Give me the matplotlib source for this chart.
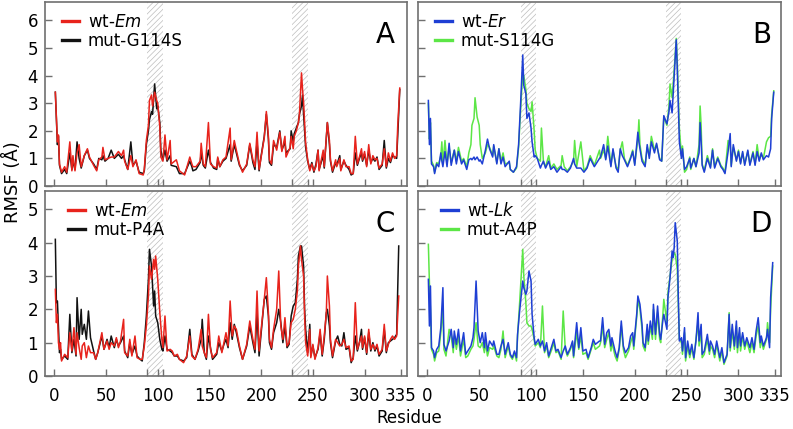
import matplotlib
matplotlib.use("Agg")
import matplotlib.pyplot as plt
from matplotlib.lines import Line2D

plt.rcParams['font.family'] = ['DejaVu Sans']
plt.rcParams['mathtext.fontset'] = 'dejavusans'
plt.rcParams['hatch.linewidth'] = 0.5

# ---- panel A: wt-Em vs mut-G114S ----
res_a = [1, 3, 4, 5, 7, 10, 12, 15, 17, 18,
         20, 22, 24, 26, 29, 32, 34, 38, 41, 43,
         46, 47, 49, 52, 55, 58, 62, 65, 67, 68,
         71, 74, 76, 79, 82, 86, 87, 89, 91, 92,
         94, 95, 97, 99, 100, 102, 103, 105, 107, 109,
         112, 113, 118, 121, 126, 131, 133, 134, 137, 141,
         142, 144, 146, 149, 151, 154, 157, 158, 160, 163,
         166, 170, 171, 174, 176, 179, 182, 186, 189, 192,
         194, 196, 198, 200, 203, 205, 207, 208, 210, 212,
         215, 218, 220, 223, 224, 228, 229, 231, 232, 234,
         236, 237, 239, 240, 241, 243, 245, 247, 249, 251,
         253, 255, 256, 260, 261, 264, 266, 267, 269, 272,
         273, 276, 277, 280, 282, 285, 287, 289, 291, 293,
         295, 297, 298, 300, 302, 304, 306, 308, 310, 312,
         314, 317, 319, 321, 323, 325, 327, 329, 331, 332,
         334]
wt_em_a = [3.4, 1.6, 1.85, 0.8, 0.5, 0.7, 0.5, 1.6, 0.55, 1.1,
           0.55, 1.2, 1.5, 0.7, 1.1, 1.35, 1.05, 0.75, 0.55, 0.95,
           1.05, 1.4, 0.95, 1.0, 1.05, 1.05, 1.25, 1.1, 1.3, 0.9,
           0.6, 1.1, 0.7, 0.95, 0.45, 0.4, 0.6, 1.65, 2.2, 3.1,
           3.3, 2.9, 3.4, 3.1, 3.0, 2.15, 1.05, 0.9, 1.85, 0.95,
           1.65, 0.8, 0.95, 0.55, 0.4, 1.05, 0.8, 0.7, 0.7, 0.9,
           1.55, 0.8, 0.7, 2.3, 0.8, 0.7, 0.65, 1.05, 0.7, 0.95,
           1.05, 2.1, 0.95, 1.65, 1.3, 0.8, 0.5, 0.8, 1.55, 0.95,
           0.7, 1.95, 0.6, 1.05, 1.75, 2.7, 1.8, 0.95, 0.8, 1.65,
           1.3, 1.95, 1.25, 1.8, 1.05, 1.4, 1.8, 1.35, 1.8, 2.0,
           2.3, 2.6, 4.1, 3.5, 3.05, 1.55, 0.95, 0.55, 0.8, 0.55,
           0.7, 1.3, 0.55, 1.3, 0.7, 2.3, 1.65, 0.95, 0.55, 0.95,
           0.7, 1.0, 0.55, 0.95, 0.7, 0.7, 0.45, 0.45, 1.8, 0.8,
           1.05, 1.35, 0.95, 1.25, 0.7, 1.5, 0.8, 1.1, 0.95, 1.0,
           0.65, 0.8, 1.35, 0.7, 1.2, 0.9, 1.2, 1.0, 1.1, 2.15,
           3.55]
mut_g114s = [3.4, 1.5, 1.8, 0.75, 0.45, 0.6, 0.45, 1.2, 0.6, 0.9,
             0.6, 1.6, 1.0, 0.65, 1.1, 1.3, 1.0, 0.8, 0.6, 1.0,
             0.95, 1.1, 0.9, 1.0, 1.3, 1.0, 1.15, 1.0, 1.1, 0.95,
             0.6, 1.6, 0.75, 0.9, 0.5, 0.45, 0.55, 1.5, 2.0, 2.4,
             2.7, 2.6, 3.7, 2.8, 2.9, 2.3, 1.3, 0.95, 1.3, 0.9,
             1.1, 0.75, 0.7, 0.45, 0.45, 0.9, 0.7, 0.55, 0.6, 0.85,
             1.2, 0.75, 0.65, 1.3, 0.85, 0.65, 0.6, 1.0, 0.7, 0.9,
             1.0, 1.5, 0.9, 1.5, 1.2, 0.75, 0.55, 0.75, 1.5, 0.85,
             0.6, 1.6, 0.55, 1.1, 1.8, 2.6, 1.7, 0.85, 0.75, 1.5,
             1.4, 2.0, 1.3, 1.6, 1.2, 1.35, 2.0, 1.6, 1.9, 2.1,
             2.3, 2.6, 2.9, 3.3, 2.6, 1.4, 0.9, 0.6, 0.85, 0.5,
             0.8, 1.3, 0.6, 1.1, 0.65, 2.3, 1.5, 0.9, 0.5, 0.85,
             0.75, 1.1, 0.6, 0.9, 0.75, 0.6, 0.4, 0.45, 1.2, 0.75,
             1.0, 1.2, 0.9, 1.15, 0.75, 1.3, 0.85, 1.0, 0.9, 1.05,
             0.6, 0.75, 1.65, 0.65, 1.0, 0.85, 1.1, 1.05, 1.0, 1.8,
             3.5]

# ---- panel B: wt-Er vs mut-S114G ----
res_b = [1, 2, 3, 4, 6, 7, 9, 11, 13, 14,
         15, 17, 19, 21, 23, 26, 28, 30, 33, 35,
         38, 40, 42, 43, 45, 46, 48, 50, 51, 53,
         56, 58, 60, 63, 64, 67, 69, 71, 73, 75,
         79, 80, 83, 86, 88, 90, 92, 93, 95, 96,
         98, 100, 101, 103, 104, 106, 109, 110, 112, 114,
         117, 119, 122, 125, 129, 130, 132, 135, 138, 141,
         142, 144, 148, 151, 154, 157, 161, 166, 167, 170,
         172, 174, 177, 179, 182, 184, 186, 188, 190, 193,
         196, 198, 200, 203, 204, 205, 207, 210, 212, 214,
         216, 219, 221, 224, 226, 228, 231, 233, 234, 236,
         238, 240, 241, 243, 245, 246, 248, 250, 253, 254,
         257, 259, 262, 263, 264, 265, 267, 270, 273, 275,
         277, 280, 283, 285, 287, 290, 292, 293, 295, 298,
         300, 302, 304, 306, 309, 311, 314, 316, 318, 320,
         322, 324, 327, 329, 331, 332, 334]
wt_er = [3.1, 1.5, 2.45, 0.8, 0.7, 0.45, 0.8, 0.7, 1.2, 0.9,
         0.7, 1.25, 0.7, 1.55, 0.75, 1.3, 0.8, 1.25, 0.8, 0.95,
         0.6, 0.95, 1.0, 0.95, 1.05, 0.95, 1.05, 0.9, 0.95, 0.8,
         1.3, 1.7, 1.35, 1.05, 1.5, 0.8, 1.35, 0.8, 1.05, 0.7,
         0.9, 0.6, 0.5, 0.7, 1.5, 3.05, 4.75, 3.65, 3.35, 2.45,
         2.65, 2.1, 1.6, 1.05, 1.1, 1.0, 0.65, 0.75, 0.9, 0.65,
         0.9, 0.6, 0.7, 0.5, 0.7, 0.6, 0.6, 0.5, 0.65, 1.0,
         0.8, 0.65, 0.65, 0.5, 0.65, 1.0, 0.7, 1.0, 1.05, 1.5,
         0.95, 1.45, 0.7, 1.35, 0.65, 0.5, 1.35, 1.1, 0.95, 0.7,
         1.0, 1.25, 0.75, 1.95, 1.6, 1.35, 0.9, 0.7, 1.5, 1.0,
         1.6, 1.2, 1.55, 0.95, 0.9, 2.55, 2.25, 2.7, 3.1, 2.65,
         4.0, 5.3, 4.25, 1.6, 1.0, 1.35, 0.6, 0.7, 1.0, 0.65,
         1.0, 0.7, 1.2, 2.3, 1.6, 0.75, 0.5, 1.0, 0.65, 1.3,
         0.65, 1.0, 0.7, 0.6, 0.45, 1.25, 1.9, 0.7, 1.5, 0.9,
         1.25, 0.8, 1.25, 0.75, 1.3, 0.75, 1.2, 0.75, 1.25, 0.9,
         1.2, 0.95, 1.1, 1.05, 1.35, 2.45, 3.4]
mut_s114g = [3.0, 1.7, 2.3, 0.9, 0.75, 0.5, 0.85, 0.8, 1.1, 1.6,
             0.8, 1.65, 0.8, 1.4, 0.85, 1.3, 0.9, 1.4, 0.9, 1.0,
             0.7, 1.2, 1.5, 2.2, 2.45, 3.2, 2.5, 2.2, 1.5, 1.0,
             1.2, 1.5, 1.4, 1.1, 1.45, 0.85, 1.35, 0.9, 1.2, 0.8,
             0.85, 0.6, 0.5, 0.65, 1.4, 2.8, 4.1, 4.0, 3.5, 3.0,
             2.8, 2.7, 3.05, 2.0, 1.3, 1.0, 0.9, 2.1, 0.85, 0.7,
             1.1, 0.65, 0.8, 0.6, 0.75, 1.1, 0.7, 0.55, 0.7, 0.9,
             1.65, 0.7, 1.6, 0.55, 0.7, 1.1, 0.75, 1.3, 1.0, 1.3,
             1.0, 1.8, 0.75, 1.3, 0.7, 0.6, 1.3, 1.6, 1.0, 0.75,
             1.05, 1.3, 0.8, 1.7, 2.4, 1.5, 1.0, 0.75, 1.4, 1.1,
             1.8, 1.3, 1.5, 1.0, 0.9, 2.5, 2.2, 2.9, 3.7, 3.2,
             4.2, 5.35, 4.5, 2.1, 1.1, 1.45, 0.5, 0.6, 1.05, 0.6,
             1.0, 0.7, 1.5, 2.9, 2.2, 0.8, 0.55, 1.1, 0.7, 1.35,
             0.7, 1.05, 0.75, 0.65, 0.5, 1.65, 1.5, 0.75, 1.4, 0.95,
             1.3, 0.85, 1.2, 0.8, 1.25, 0.8, 1.25, 0.8, 1.5, 0.95,
             1.15, 1.0, 1.6, 1.75, 1.8, 2.6, 3.45]

# ---- panel C: wt-Em vs mut-P4A ----
res_c = [1, 2, 3, 4, 5, 6, 7, 10, 13, 15,
         17, 19, 21, 22, 24, 26, 27, 29, 31, 33,
         35, 38, 40, 42, 46, 48, 51, 53, 55, 58,
         60, 62, 64, 67, 68, 71, 73, 75, 78, 80,
         83, 85, 87, 89, 91, 92, 94, 96, 97, 98,
         100, 102, 104, 105, 107, 109, 112, 114, 116, 119,
         121, 125, 128, 131, 133, 136, 139, 142, 143, 145,
         147, 149, 151, 153, 157, 159, 162, 164, 166, 168,
         170, 172, 174, 176, 179, 182, 186, 189, 192, 194,
         196, 198, 200, 203, 205, 207, 208, 210, 212, 215,
         217, 219, 221, 223, 225, 227, 229, 231, 233, 235,
         236, 238, 239, 241, 242, 243, 245, 247, 248, 250,
         252, 255, 257, 259, 261, 263, 264, 266, 267, 269,
         272, 274, 276, 278, 280, 282, 285, 287, 289, 291,
         293, 295, 297, 298, 300, 302, 304, 306, 308, 310,
         312, 314, 317, 319, 321, 323, 325, 327, 329, 331,
         333]
wt_em_c = [2.6, 1.6, 1.85, 1.0, 0.8, 1.0, 0.45, 0.65, 0.55, 1.3,
           0.75, 1.45, 0.65, 1.3, 0.85, 0.5, 0.9, 1.0, 0.55, 0.9,
           0.7, 0.7, 0.5, 0.7, 1.3, 0.8, 1.05, 0.8, 1.0, 0.9,
           1.15, 0.85, 1.05, 1.7, 0.7, 0.6, 1.1, 0.6, 1.2, 0.55,
           0.5, 0.5, 0.9, 1.5, 2.4, 3.3, 2.9, 3.5, 3.2, 3.6,
           2.9, 1.9, 1.1, 0.85, 1.8, 0.75, 0.8, 0.75, 0.6, 0.65,
           0.5, 0.4, 0.6, 1.2, 0.6, 0.5, 0.8, 1.4, 0.9, 0.7,
           0.55, 1.85, 0.8, 0.55, 0.7, 1.2, 0.7, 1.0, 1.3, 0.9,
           2.25, 1.2, 1.5, 1.4, 0.9, 0.5, 0.95, 1.65, 1.1, 0.8,
           2.55, 0.75, 1.4, 2.3, 2.95, 1.9, 1.1, 0.85, 1.4, 2.0,
           3.15, 1.5, 1.1, 1.75, 0.9, 1.0, 1.6, 1.7, 2.0, 2.55,
           3.3, 3.9, 3.5, 3.0, 1.8, 1.0, 0.6, 1.4, 0.55, 0.95,
           0.5, 0.85, 1.4, 0.65, 1.2, 1.9, 3.0, 2.1, 1.1, 0.6,
           1.1, 1.0, 0.9, 0.95, 1.1, 0.85, 0.9, 0.45, 0.5, 2.2,
           0.8, 1.0, 1.2, 0.85, 1.2, 0.7, 1.4, 0.8, 0.95, 0.8,
           0.95, 0.65, 0.8, 1.55, 0.75, 0.95, 1.1, 1.2, 1.1, 1.2,
           2.4]
mut_p4a = [4.1, 2.2, 2.25, 1.5, 0.7, 0.8, 0.5, 0.6, 0.5, 1.85,
           0.7, 1.1, 0.6, 2.35, 1.1, 2.0, 1.25, 1.55, 1.1, 1.95,
           1.15, 0.75, 0.5, 0.7, 1.2, 0.8, 1.1, 0.85, 1.2, 0.85,
           1.1, 0.9, 1.0, 1.2, 0.75, 0.55, 1.0, 0.65, 0.9, 0.6,
           0.5, 0.45, 1.0, 1.8, 2.9, 3.8, 3.3, 2.1, 2.55, 1.8,
           1.6, 1.1, 0.8, 0.75, 1.2, 0.8, 0.75, 0.7, 0.6, 0.6,
           0.5, 0.45, 0.55, 1.4, 0.65, 0.5, 0.75, 1.1, 1.7, 0.7,
           0.5, 1.2, 0.85, 0.5, 0.65, 1.0, 0.75, 0.95, 1.1, 0.85,
           1.6, 1.1, 1.55, 1.3, 0.85, 0.5, 0.9, 1.5, 1.0, 0.7,
           1.9, 0.6, 1.3, 2.3, 2.4, 1.8, 1.0, 0.8, 1.3, 1.6,
           2.0, 1.6, 1.0, 1.5, 0.85, 0.95, 1.8, 2.1, 2.2, 2.9,
           3.6, 3.9, 3.9, 3.3, 2.0, 1.4, 0.7, 1.55, 0.6, 0.9,
           0.55, 0.8, 1.3, 0.6, 1.1, 1.9, 2.0, 1.5, 1.0, 0.55,
           1.05, 1.2, 0.95, 0.9, 1.3, 0.8, 0.85, 0.4, 0.55, 1.2,
           0.75, 1.0, 1.4, 0.8, 1.15, 0.65, 1.3, 0.75, 1.0, 0.75,
           0.9, 0.6, 0.75, 1.4, 0.7, 1.0, 1.05, 1.1, 1.15, 1.25,
           3.9]

# ---- panel D: wt-Lk vs mut-A4P ----
res_d = [1, 2, 3, 4, 6, 7, 9, 11, 13, 15,
         16, 18, 21, 23, 25, 26, 28, 30, 32, 35,
         37, 39, 42, 44, 45, 47, 49, 51, 53, 55,
         56, 58, 60, 63, 64, 67, 69, 71, 73, 75,
         78, 80, 82, 84, 86, 87, 89, 92, 93, 95,
         96, 98, 100, 101, 103, 104, 107, 109, 111, 113,
         115, 117, 120, 122, 124, 126, 129, 131, 133, 135,
         138, 140, 141, 144, 146, 148, 150, 153, 155, 158,
         160, 162, 166, 167, 169, 171, 173, 175, 177, 178,
         181, 183, 185, 187, 189, 191, 194, 196, 198, 199,
         202, 203, 205, 207, 208, 210, 212, 213, 215, 217,
         218, 220, 222, 224, 225, 227, 228, 231, 232, 234,
         236, 237, 238, 239, 241, 242, 243, 245, 246, 248,
         249, 251, 253, 255, 257, 259, 261, 262, 264, 265,
         267, 270, 272, 273, 275, 277, 279, 282, 284, 286,
         289, 291, 292, 294, 296, 298, 299, 301, 302, 304,
         306, 308, 311, 313, 315, 317, 319, 321, 322, 324,
         327, 328, 330, 331, 333]
wt_lk = [2.9, 1.5, 2.7, 0.85, 0.75, 0.55, 0.8, 0.9, 1.45, 2.65,
         0.95, 0.75, 1.05, 1.4, 0.85, 1.35, 0.95, 1.4, 0.75, 1.3,
         0.65, 0.75, 0.9, 1.15, 1.45, 2.85, 1.35, 1.0, 1.3, 0.85,
         1.3, 0.75, 1.05, 0.9, 1.05, 0.65, 0.65, 0.9, 1.1, 0.65,
         1.0, 0.65, 0.55, 0.75, 0.55, 1.25, 1.95, 2.85, 2.65, 2.45,
         2.55, 3.15, 2.85, 1.85, 1.15, 0.95, 1.1, 0.9, 1.05, 0.75,
         1.0, 0.6, 0.9, 1.1, 0.75, 0.8, 0.55, 0.75, 0.9, 0.65,
         0.85, 1.05, 0.6, 1.6, 0.85, 1.45, 0.75, 0.8, 0.55, 0.85,
         1.1, 0.95, 1.05, 1.05, 1.75, 0.95, 1.3, 1.4, 0.9, 1.15,
         0.75, 0.55, 0.85, 1.65, 0.9, 0.7, 0.85, 1.2, 1.3, 0.9,
         1.9, 2.4, 2.15, 1.55, 1.0, 0.85, 1.55, 1.05, 1.65, 1.25,
         2.15, 1.25, 2.1, 1.25, 1.1, 1.65, 1.85, 1.4, 2.35, 2.95,
         3.75, 3.55, 3.85, 4.6, 4.05, 2.35, 1.05, 1.15, 0.75, 1.45,
         0.55, 1.05, 0.65, 0.95, 0.55, 1.05, 1.9, 1.05, 1.55, 0.65,
         0.75, 1.25, 0.75, 1.05, 0.9, 0.65, 1.05, 0.55, 0.85, 0.4,
         0.65, 1.85, 0.85, 1.55, 0.9, 1.65, 0.85, 1.45, 0.9, 1.3,
         0.9, 1.15, 0.85, 1.15, 0.8, 1.35, 1.75, 1.0, 1.2, 0.9,
         1.15, 1.4, 0.85, 2.35, 3.4]
mut_a4p = [3.95, 2.8, 2.0, 0.8, 0.65, 0.45, 0.7, 0.75, 1.3, 2.0,
           0.8, 0.6, 1.4, 1.2, 0.7, 1.2, 0.8, 1.2, 0.6, 1.1,
           0.55, 0.6, 0.8, 0.9, 1.1, 1.6, 0.9, 0.85, 1.0, 0.7,
           1.0, 0.6, 0.85, 0.8, 0.9, 0.6, 0.55, 0.8, 1.35, 0.55,
           0.9, 0.6, 0.5, 0.7, 0.45, 1.2, 2.2, 3.8, 3.0, 2.2,
           1.6, 1.5, 1.5, 1.4, 1.1, 0.9, 1.0, 0.85, 2.1, 0.7,
           0.9, 0.55, 0.8, 1.0, 0.7, 0.75, 0.5, 1.95, 0.8, 0.6,
           0.8, 1.0, 0.55, 1.3, 0.8, 1.2, 0.65, 0.7, 0.5, 0.8,
           1.0, 0.8, 0.9, 1.0, 1.5, 0.85, 1.1, 1.3, 0.75, 1.0,
           0.6, 0.45, 0.8, 1.5, 0.8, 0.55, 0.75, 1.0, 1.2, 0.8,
           1.8, 2.3, 2.0, 1.4, 0.9, 0.75, 1.4, 0.95, 1.5, 1.1,
           2.0, 1.1, 1.9, 1.1, 1.0, 1.8, 2.3, 1.6, 2.5, 3.0,
           3.5, 3.6, 3.7, 3.65, 3.2, 2.2, 1.1, 1.0, 0.65, 1.3,
           0.45, 0.9, 0.55, 0.85, 0.5, 1.1, 1.6, 0.9, 1.3, 0.55,
           0.65, 1.1, 0.65, 0.9, 0.8, 0.55, 0.95, 0.45, 0.75, 0.35,
           0.6, 1.9, 0.75, 1.35, 0.8, 1.5, 0.7, 1.3, 0.75, 1.2,
           0.8, 1.05, 0.7, 1.0, 0.7, 1.2, 1.5, 0.85, 1.1, 0.8,
           1.1, 1.6, 1.0, 2.0, 3.3]

x_ticks = [0, 50, 100, 150, 200, 250, 300, 335]
region_edges = [90, 105, 230, 245]
hatched = [(90, 105), (230, 245)]

RED = '#e8231c'
BLACK = '#121212'
BLUE = '#1e3fd4'
GREEN = '#5ce646'
HATCH = '#bdbdbd'
FRAME = '#707070'

W, H = 793, 429
fig = plt.figure(figsize=(W / 100, H / 100), dpi=100)


def add_ax(left, top, right, bottom):
    return fig.add_axes([left / W, 1 - bottom / H, (right - left) / W, (bottom - top) / H])


ax_a = add_ax(45, 2, 407, 186)
ax_b = add_ax(418, 2, 781, 186)
ax_c = add_ax(45, 191, 407, 376)
ax_d = add_ax(418, 191, 781, 376)

panels = [
    (ax_a, res_a, wt_em_a, mut_g114s, RED, BLACK, 'wt-$\\mathit{Em}$', 'mut-G114S', 'A', 6.67, range(0, 7), 17, 12),
    (ax_b, res_b, wt_er, mut_s114g, BLUE, GREEN, 'wt-$\\mathit{Er}$', 'mut-S114G', 'B', 6.67, range(0, 7), 17, 10),
    (ax_c, res_c, wt_em_c, mut_p4a, RED, BLACK, 'wt-$\\mathit{Em}$', 'mut-P4A', 'C', 5.55, range(0, 6), 23, 12),
    (ax_d, res_d, wt_lk, mut_a4p, BLUE, GREEN, 'wt-$\\mathit{Lk}$', 'mut-A4P', 'D', 5.55, range(0, 6), 23, 9),
]

for i, (ax, res, wt, mut, c_wt, c_mut, lab_wt, lab_mut, letter, ytop, yt, leg_dx, let_dx) in enumerate(panels):
    for lo, hi in hatched:
        ax.axvspan(lo, hi, facecolor='none', edgecolor=HATCH, hatch='//////', linewidth=0, zorder=0)
    ax.plot(res, mut, color=c_mut, lw=1.1, zorder=2)
    ax.plot(res, wt, color=c_wt, lw=1.1, zorder=3)

    ax.set_xlim(-9, 341)
    ax.set_ylim(0, ytop)
    ax.set_xticks(x_ticks)
    ax.set_xticks(region_edges, minor=True)
    ax.set_yticks(list(yt))
    ax.tick_params(which='both', direction='in', length=5, width=1, color=FRAME,
                   labelsize=12, pad=5)
    ax.tick_params(axis='x', pad=8)
    for s in ax.spines.values():
        s.set_color(FRAME)
        s.set_linewidth(1.2)
    if i < 2:
        ax.tick_params(labelbottom=False)
    if i % 2 == 1:
        ax.tick_params(labelleft=False)

    handles = [Line2D([], [], color=c_wt, lw=2.4), Line2D([], [], color=c_mut, lw=2.4)]
    bbox = ax.get_position()
    ax.legend(handles, [lab_wt, lab_mut], loc='upper left',
              bbox_to_anchor=(leg_dx / (bbox.width * W), 1 - 11 / (bbox.height * H)),
              frameon=False, fontsize=12, handlelength=1.0, handletextpad=0.55,
              labelspacing=0.05, borderpad=0, borderaxespad=0)
    ax.text(1 - let_dx / (bbox.width * W), 1 - 41 / (bbox.height * H), letter,
            transform=ax.transAxes, ha='right', va='baseline', fontsize=20)

fig.text(12.5 / W, 1 - 182 / H, 'RMSF (Å)', rotation=90, ha='center', va='center', fontsize=13)
fig.text(409 / W, 1 - 423 / H, 'Residue', ha='center', va='baseline', fontsize=12)

fig.savefig('out.png', dpi=100)
